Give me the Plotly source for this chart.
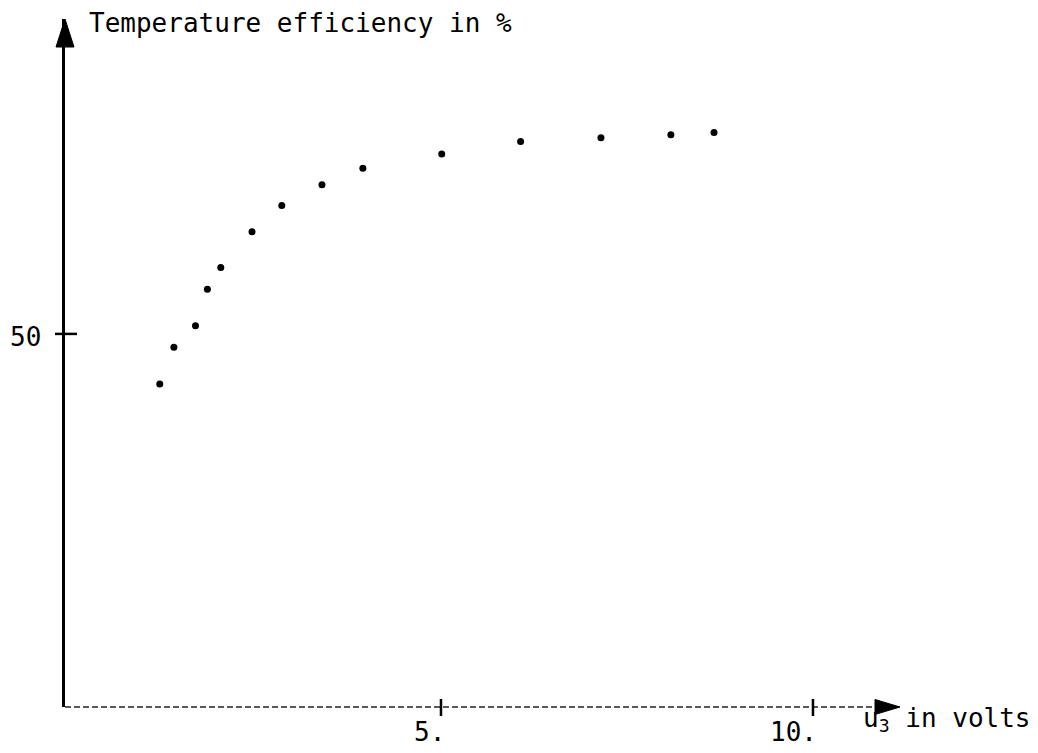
import plotly.graph_objects as go

# Data
u3_volts = [1.22, 1.41, 1.70, 1.86, 2.04, 2.46, 2.86, 3.40, 3.95, 5.01, 6.07, 7.15, 8.09, 8.67]
efficiency_pct = [43.3, 48.2, 51.1, 56.0, 58.9, 63.7, 67.2, 70.0, 72.2, 74.1, 75.8, 76.3, 76.7, 77.0]

x_tick_vals = [5, 10]
x_tick_text = ["5.", "10."]
y_tick_vals = [50]
y_tick_text = ["50"]

title_text = "Temperature efficiency in %"
x_label = "u<sub>3</sub> in volts"

FONT = "DejaVu Sans Mono"
W, H = 1038, 753
ML, MR, MT, MB = 65, 138, 19, 46

x_range = [-0.054, 11.17]
y_range = [0, 92.2]

fig = go.Figure()
fig.add_trace(go.Scatter(
    x=u3_volts, y=efficiency_pct, mode="markers",
    marker=dict(color="black", size=7, symbol="circle"),
    showlegend=False, hoverinfo="x+y",
))

shapes = []
annotations = []

# x axis line (faint, broken as in the scan)
shapes.append(dict(type="line", xref="paper", yref="paper", x0=0, x1=0.975, y0=0, y1=0,
                   line=dict(color="#222", width=1.6, dash="6px,3px")))
# axis arrowheads
shapes.append(dict(type="path", xref="paper", yref="paper", xsizemode="pixel", ysizemode="pixel",
                   xanchor=0, yanchor=1, path="M0,0 L-9,-28 L9,-28 Z",
                   fillcolor="black", line=dict(color="black", width=1)))
shapes.append(dict(type="path", xref="paper", yref="paper", xsizemode="pixel", ysizemode="pixel",
                   xanchor=1, yanchor=0, path="M0,0 L-25,7.5 L-25,-7.5 Z",
                   fillcolor="black", line=dict(color="black", width=1)))

# tick crosses and labels
for v, t in zip(x_tick_vals, x_tick_text):
    shapes.append(dict(type="line", xref="x", yref="paper", ysizemode="pixel", yanchor=0,
                       x0=v, x1=v, y0=-9, y1=8, line=dict(color="black", width=2.5)))
    annotations.append(dict(x=v, xref="x", y=0, yref="paper", text=t, showarrow=False,
                            xanchor="right", yanchor="top", xshift=6, yshift=-8,
                            font=dict(family=FONT, size=26, color="black")))
for v, t in zip(y_tick_vals, y_tick_text):
    shapes.append(dict(type="line", xref="paper", yref="y", xsizemode="pixel", xanchor=0,
                       x0=-10, x1=12, y0=v, y1=v, line=dict(color="black", width=2.5)))
    annotations.append(dict(x=0, xref="paper", y=v, yref="y", text=t, showarrow=False,
                            xanchor="right", yanchor="middle", xshift=-22, yshift=-3,
                            font=dict(family=FONT, size=26, color="black")))

# axis titles
annotations.append(dict(x=0, xref="paper", y=1, yref="paper", text=title_text, showarrow=False,
                        xanchor="left", yanchor="middle", xshift=22, yshift=-4,
                        font=dict(family=FONT, size=26, color="black")))
annotations.append(dict(x=1, xref="paper", y=0, yref="paper", text=x_label, showarrow=False,
                        xanchor="left", yanchor="middle", xshift=-39, yshift=-12,
                        font=dict(family=FONT, size=26, color="black")))

fig.update_layout(
    width=W, height=H,
    margin=dict(l=ML, r=MR, t=MT, b=MB, pad=0),
    paper_bgcolor="white", plot_bgcolor="white",
    showlegend=False,
    xaxis=dict(range=x_range, showgrid=False, zeroline=False, showline=False,
               showticklabels=False, ticks=""),
    yaxis=dict(range=y_range, showgrid=False, zeroline=False, showline=True,
               linecolor="black", linewidth=3, showticklabels=False, ticks=""),
    shapes=shapes,
    annotations=annotations,
)

fig.write_html("out.html")
